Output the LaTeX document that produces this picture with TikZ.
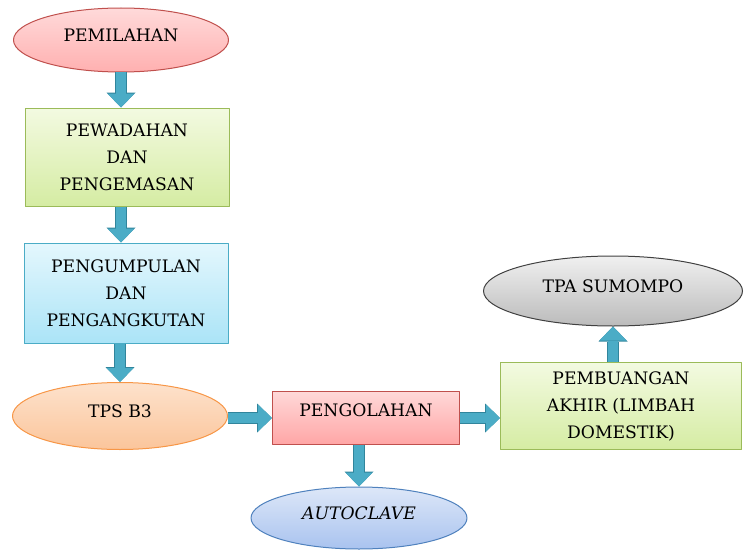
\documentclass[tikz,border=0pt]{standalone}
\usepackage{fontspec}
\setmainfont{DejaVu Serif}[Scale=0.86]
\usetikzlibrary{shapes.geometric,arrows.meta}
\definecolor{redline}{HTML}{C0504D}
\definecolor{greenline}{HTML}{9BBB59}
\definecolor{blueline}{HTML}{4BACC6}
\definecolor{orangeline}{HTML}{F79646}
\definecolor{navyline}{HTML}{4F81BD}
\definecolor{greyline}{HTML}{404040}
\definecolor{arrowfill}{HTML}{4BACC6}
\definecolor{arrowedge}{HTML}{31859C}
\definecolor{pinktop}{HTML}{FFDADA}
\definecolor{pinkbot}{HTML}{FFB0B0}
\definecolor{greentop}{HTML}{F3FAE1}
\definecolor{greenbot}{HTML}{D5ECA3}
\definecolor{cyantop}{HTML}{E4F7FD}
\definecolor{cyanbot}{HTML}{ABE4F7}
\definecolor{orangetop}{HTML}{FDE2CC}
\definecolor{orangebot}{HTML}{FBC59B}
\definecolor{redtop}{HTML}{FFD8D8}
\definecolor{redbot}{HTML}{FFA6A6}
\definecolor{bluetop}{HTML}{DDE7F8}
\definecolor{bluebot}{HTML}{A9C3EF}
\definecolor{greytop}{HTML}{F0F0F0}
\definecolor{greybot}{HTML}{BBBBBB}
\begin{document}
\begin{tikzpicture}[x=1pt, y=-1pt, line join=round,
  font=\fontsize{20}{27}\selectfont,
  base/.style={inner sep=0pt, align=center, line width=1pt},
  oval/.style={base, ellipse, text depth=10pt},
  box/.style={base, rectangle},
  flow/.style={preaction={draw=arrowedge, line width=12pt,
      -{Triangle[length=15pt, width=29pt, line width=0pt]}},
    draw=arrowfill, line width=10pt,
    -{Triangle[length=14pt, width=27pt, line width=0pt]}}]
  \useasboundingbox (0,0) rectangle (744,551);
  % kolom kiri
  \node[oval, draw=redline, top color=pinktop, bottom color=pinkbot,
    minimum width=215pt, minimum height=64pt] (pemilahan) at (121,40) {PEMILAHAN};
  \node[box, draw=greenline, top color=greentop, bottom color=greenbot,
    minimum width=204pt, minimum height=98pt] (pewadahan) at (127,157)
    {PEWADAHAN\\DAN\\PENGEMASAN};
  \node[box, draw=blueline, top color=cyantop, bottom color=cyanbot,
    minimum width=204pt, minimum height=100pt] (pengumpulan) at (126,293)
    {PENGUMPULAN\\DAN\\PENGANGKUTAN};
  \node[oval, draw=orangeline, top color=orangetop, bottom color=orangebot,
    minimum width=215pt, minimum height=67pt] (tps) at (120,416) {TPS B3};
  % tengah dan kanan
  \node[box, draw=redline, top color=redtop, bottom color=redbot,
    minimum width=187pt, minimum height=53pt, text depth=16pt] (pengolahan) at (366,418)
    {PENGOLAHAN};
  \node[oval, draw=navyline, top color=bluetop, bottom color=bluebot,
    minimum width=216pt, minimum height=62pt] (autoclave) at (359,518) {\itshape AUTOCLAVE};
  \node[box, draw=greenline, top color=greentop, bottom color=greenbot,
    minimum width=241pt, minimum height=87pt] (pembuangan) at (621,406)
    {PEMBUANGAN\\AKHIR (LIMBAH\\DOMESTIK)};
  \node[oval, draw=greyline, top color=greytop, bottom color=greybot,
    minimum width=259pt, minimum height=70pt] (tpa) at (613,291) {TPA SUMOMPO};
  % panah
  \draw[flow] (pemilahan.south) -- (pemilahan.south |- pewadahan.north);
  \draw[flow] (pewadahan.south -| pemilahan.south) -- (pengumpulan.north -| pemilahan.south);
  \draw[flow] (pengumpulan.south -| tps.north) -- (tps.north);
  \draw[flow] (tps.east |- pengolahan.west) -- (pengolahan.west);
  \draw[flow] (pengolahan.south -| autoclave.north) -- (autoclave.north);
  \draw[flow] (pengolahan.east) -- (pengolahan.east -| pembuangan.west);
  \draw[flow] (pembuangan.north -| tpa.south) -- (tpa.south);
\end{tikzpicture}
\end{document}
